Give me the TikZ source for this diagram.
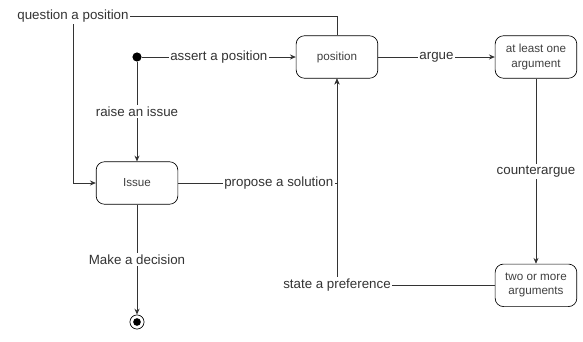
\documentclass[tikz,border=0pt]{standalone}
\usepackage{fontspec}
\setmainfont{Liberation Sans}
\usepackage{tikz}
\usetikzlibrary{positioning}
\usetikzlibrary{arrows.meta}

\begin{document}
\begin{tikzpicture}[x=0.6pt, y=0.6pt, on grid,
	state/.style={rectangle, rounded corners=5pt, draw, minimum width=49pt, minimum height=25.5pt, align=center, font=\fontsize{7}{8.5}\selectfont, text=black!75},
	initial/.style={circle, fill, minimum size=5.5pt, inner sep=0pt},
	final/.style={circle, draw, minimum size=8.5pt, inner sep=0pt, path picture={\fill (path picture bounding box.center) circle (2.3pt);}},
	trans/.style={-{Stealth[length=3.5pt, width=3pt]}, draw=black!80, line width=0.5pt},
	label/.style={fill=white, inner sep=1pt, font=\fontsize{8}{9.5}\selectfont, text=black!80}]
	\useasboundingbox (0,0) rectangle (583,-341);
	\node [initial] (start) at (137,-57) {};
	\node [state, right=120pt of start] (position) {position};
	\node [state, right=119.4pt of position] (oneArg) {at least one\\argument};
	\node [state, below=137pt of oneArg] (twoArgs) {two or more\\arguments};
	\node [state, below=75.6pt of start] (issue) {Issue};
	\node [final, below=83.4pt of issue] (end) {};
	\coordinate (qCorner) at (73,-16);

	\draw [trans] (position.north) |- (qCorner) node [label] {question a position} |- (issue.west);
	\draw [trans] (start) -- node [label] {assert a position} (position);
	\draw [trans] (start) -- node [label] {raise an issue} (issue);
	\draw [trans] (position) -- node [label] {argue} (oneArg);
	\draw [trans] (oneArg) -- node [label] {counterargue} (twoArgs);
	\draw [trans] (issue.east) -| node [label, anchor=east, xshift=-1pt] {propose a solution} (position.south);
	\draw [trans] (twoArgs.west) -| node [label] {state a preference} (position.south);
	\draw [trans] (issue) -- node [label] {Make a decision} (end);
\end{tikzpicture}
\end{document}
